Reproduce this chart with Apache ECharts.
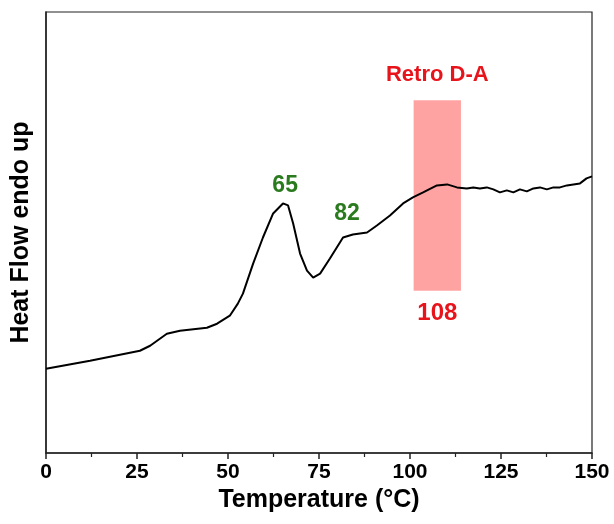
<!doctype html>
<html>
<head>
<meta charset="utf-8">
<script src="https://cdn.jsdelivr.net/npm/echarts@6/dist/echarts.min.js"></script>
<style>
    html, body { margin: 0; padding: 0; background: #fff; }
    #chart { width: 614px; height: 524px; }
</style>
</head>
<body>
<div id="chart"></div>
<script>
    // DSC trace, temperature (°C) vs heat flow (arbitrary units)
    let temps = [0, 12.1, 25.8, 28.6, 33.2, 36.8, 44.2, 47.0, 50.5, 52.7, 54.1, 56.9, 59.6, 62.4, 65.1, 66.5, 67.9,
        69.8, 71.7, 73.4, 75.3, 78.0, 81.6, 84.3, 88.2, 90.9, 94.5, 98.1, 100.8, 103.6, 107.4, 110.2, 112.9,
        115.6, 117.4, 119.2, 121.1, 122.9, 124.7, 126.6, 128.4, 130.2, 132.1, 133.9, 135.7, 137.6, 139.4,
        141.2, 143.1, 144.9, 146.7, 148.5, 150];
    let heatFlow = [84, 92, 102, 107, 119, 122, 125, 129, 137, 149, 159, 189, 215, 239, 249, 247, 229,
        199, 182, 175, 179, 194, 215, 218, 220, 227, 237, 249, 255, 260, 267, 268, 265,
        264, 265, 264, 265, 263, 260, 262, 260, 263, 261, 264, 265, 263, 265,
        265, 267, 268, 269, 274, 276];

    let xTicks = [0, 25, 50, 75, 100, 125, 150];
    let retroRange = [101, 114];
    let retroHeight = [162, 352];
    let peakLabels = [['65', 65.7, 267], ['82', 82.7, 239]];
    let retroLabels = [['Retro D-A', 107.5, 377], ['108', 107.5, 139]];

    let points = temps.map(function (t, i) { return [t, heatFlow[i]]; });

    let marks = [];
    peakLabels.forEach(function (p) {
        marks.push({coord: [p[1], p[2]], value: p[0], label: {color: '#2a7a1e', fontSize: 23}});
    });
    retroLabels.forEach(function (p, i) {
        marks.push({coord: [p[1], p[2]], value: p[0], label: {color: '#e8141c', fontSize: i == 0 ? 22 : 24}});
    });

    let chart = echarts.init(document.getElementById('chart'));
    chart.setOption({
        animation: false,
        grid: {left: 46, right: 22, top: 12, bottom: 71, show: true, borderColor: '#222', borderWidth: 1.2},
        xAxis: {
            type: 'value', min: 0, max: 150, interval: 25,
            name: 'Temperature (°C)', nameLocation: 'middle', nameGap: 35,
            nameTextStyle: {fontFamily: 'Liberation Sans', fontWeight: 'bold', fontSize: 25, color: '#000'},
            axisLine: {lineStyle: {color: '#222', width: 1.5}},
            axisTick: {length: 6, lineStyle: {color: '#222', width: 1.5}},
            minorTick: {show: true, splitNumber: 2, length: 4, lineStyle: {color: '#222', width: 1.2}},
            axisLabel: {
                fontFamily: 'Liberation Sans', fontWeight: 'bold', fontSize: 21, color: '#000', margin: 9,
                formatter: function (v) { return xTicks.indexOf(v) >= 0 ? String(v) : ''; }
            },
            splitLine: {show: false}
        },
        yAxis: {
            type: 'value', min: 0, max: 440,
            name: 'Heat Flow endo up', nameLocation: 'middle', nameGap: 12,
            nameTextStyle: {fontFamily: 'Liberation Sans', fontWeight: 'bold', fontSize: 25, color: '#000'},
            axisLine: {show: true, lineStyle: {color: '#222', width: 1.5}},
            axisTick: {show: false},
            axisLabel: {show: false},
            splitLine: {show: false}
        },
        series: [{
            type: 'line',
            data: points,
            symbol: 'none',
            lineStyle: {color: '#000', width: 2},
            z: 3,
            markArea: {
                silent: true,
                itemStyle: {color: 'rgba(255, 100, 100, 0.6)'},
                data: [[{coord: [retroRange[0], retroHeight[0]]}, {coord: [retroRange[1], retroHeight[1]]}]]
            },
            markPoint: {
                symbol: 'circle', symbolSize: 0, silent: true,
                label: {
                    show: true, position: 'inside', fontFamily: 'Liberation Sans', fontWeight: 'bold',
                    formatter: function (p) { return p.value; }
                },
                data: marks
            }
        }]
    });
</script>
</body>
</html>
